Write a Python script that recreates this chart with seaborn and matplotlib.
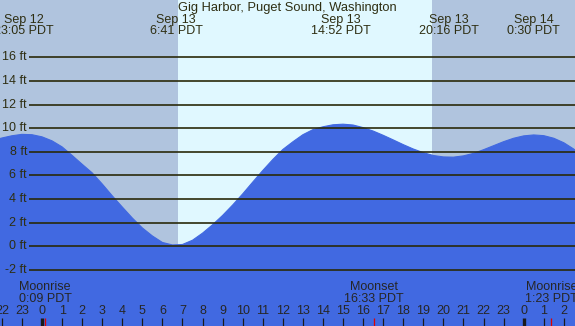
import numpy as np
import pandas as pd
import matplotlib
matplotlib.use("Agg")
import matplotlib.pyplot as plt
import matplotlib.transforms as mtransforms
import seaborn as sns

# ---- data (hours relative to Sep 13 00:00 PDT) ----
hours = np.arange(-2.5, 27.01, 0.5)
levels = [8.95, 9.17, 9.36, 9.48, 9.45,
          9.27, 8.93, 8.42, 7.70, 6.95, 6.22, 5.28, 4.28, 3.33, 2.40,
          1.56, 0.88, 0.33, 0.12, 0.16, 0.52, 1.12, 1.83, 2.62, 3.50,
          4.44, 5.44, 6.42, 7.35, 8.20, 8.85, 9.45, 9.88, 10.12, 10.29,
          10.34, 10.27, 10.05, 9.76, 9.40, 9.01, 8.61, 8.24, 7.93, 7.69,
          7.57, 7.55, 7.66, 7.87, 8.18, 8.52, 8.86, 9.15, 9.35, 9.43,
          9.37, 9.15, 8.77, 8.23, 7.55]

ext_hours = [-0.917, 6.683, 14.867, 20.267, 24.5]
ext_dates = ["Sep 12", "Sep 13", "Sep 13", "Sep 13", "Sep 14"]
ext_times = ["23:05 PDT", "6:41 PDT", "14:52 PDT", "20:16 PDT", "0:30 PDT"]

moon_hours = [0.15, 16.55, 25.383]
moon_names = ["Moonrise", "Moonset", "Moonrise"]
moon_times = ["0:09 PDT", "16:33 PDT", "1:23 PDT"]

sunrise, sunset = 6.77, 19.42
tick_hours = list(range(-2, 27))
tick_labels = [str(h % 24) for h in tick_hours]
ft_levels = list(range(-2, 17, 2))
title = "Gig Harbor, Puget Sound, Washington"

# ---- style ----
sns.set_style("white")
plt.rcParams['font.family'] = ['Liberation Sans', 'DejaVu Sans']

W, H = 575, 326
fig = plt.figure(figsize=(W / 100, H / 100), dpi=100)
ax = fig.add_axes([0, 0, 1, 1])

x0, x1 = -42 / 20.07, (575 - 42) / 20.07
y0, y1 = -6.74, 20.85
ax.set_xlim(x0, x1)
ax.set_ylim(y0, y1)

night = "#b0c4de"
day = "#e0f8ff"
blue = "#4169e1"
txt = "#2e2e12"

ax.set_facecolor(night)
ax.axvspan(sunrise, sunset, color=day, lw=0, zorder=0)

df = pd.DataFrame({"hour": hours, "level": levels})
ax.fill_between(df["hour"], df["level"], y0, color=blue, lw=0, zorder=1)
sns.lineplot(data=df, x="hour", y="level", ax=ax, color=blue, lw=0.8, zorder=2)

# gridlines with ft labels
xg = x0 + 29 / 20.07
for v in ft_levels:
    ax.plot([xg, x1], [v, v], color="#2a2a0a", lw=1.2, zorder=3, solid_capstyle="butt")
    ax.text(x0 + 27 / 20.07, v, f"{v} ft", ha="right", va="center",
            fontsize=9, color=txt, zorder=4)

def ypix(p):
    return 1 - p / H

bt = mtransforms.blended_transform_factory(ax.transData, ax.transAxes)

ax.text(287 / W, ypix(7.5), title, transform=ax.transAxes, ha="center",
        va="center", fontsize=9.3, color=txt)
for hx, d, t in zip(ext_hours, ext_dates, ext_times):
    ax.text(hx, ypix(19.5), d, transform=bt, ha="center", va="center",
            fontsize=9, color=txt)
    ax.text(hx, ypix(31.5), t, transform=bt, ha="center", va="center",
            fontsize=9, color=txt)

for hx, n, t in zip(moon_hours, moon_names, moon_times):
    ax.text(hx, ypix(287.5), n, transform=bt, ha="center", va="center",
            fontsize=9, color="#262626", zorder=5)
    ax.text(hx, ypix(299.5), t, transform=bt, ha="center", va="center",
            fontsize=9, color="#262626", zorder=5)
    ax.plot([hx, hx], [ypix(318), 1 - 326.5 / H], transform=bt,
            color="#e00000", lw=0.9, zorder=6, solid_capstyle="butt")

for hx, lab in zip(tick_hours, tick_labels):
    ax.text(hx, ypix(311.5), lab, transform=bt, ha="center", va="center",
            fontsize=9, color="#262626", zorder=5)
    lw = 2.4 if hx % 24 == 0 else 0.9
    ax.plot([hx, hx], [ypix(318), ypix(327)], transform=bt, color="#1a1a1a",
            lw=lw, zorder=6, solid_capstyle="butt")

ax.set_xticks([])
ax.set_yticks([])
ax.set_xlabel("")
ax.set_ylabel("")
for s in ax.spines.values():
    s.set_visible(False)

fig.savefig("out.png", dpi=100)
